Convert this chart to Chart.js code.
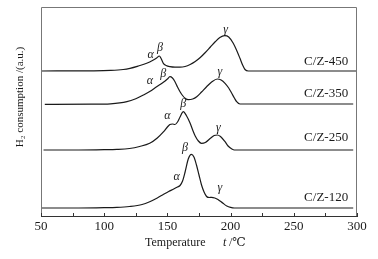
<!DOCTYPE html>
<html>
<head>
<meta charset="utf-8">
<script src="https://cdn.jsdelivr.net/npm/chart.js@4"></script>
<style>
  html, body { margin: 0; padding: 0; background: #fff; }
  #wrap { width: 378px; height: 259px; }
</style>
</head>
<body>
<div id="wrap"><canvas id="tprChart" width="378" height="259"></canvas></div>
<script>
// TPR curves (temperature in C, signal in arbitrary units with offset)
var temp120 = [50, 80, 100, 110, 120, 130, 136, 142, 147, 151, 155, 158, 160, 162, 164, 166.5, 169, 171, 173, 175, 177, 179, 181, 183, 185, 187.5, 190, 194, 197, 200, 203, 297];
var h120    = [8, 8, 8.3, 8.6, 9.5, 11.5, 14.3, 18, 21.7, 24.5, 27, 29, 30.5, 35, 44, 57, 61.7, 59, 51, 41, 31, 24, 19.5, 18.5, 18.7, 18, 16.5, 12.7, 10, 8.6, 8, 8];

var temp250 = [52, 80, 100, 110, 120, 128, 136, 142, 147, 150, 152, 154, 156, 158, 160, 162.6, 165, 168, 170, 172, 174.5, 177, 180, 184, 187, 189.5, 192, 195.6, 198, 201, 203, 297];
var h250    = [66, 66, 66.3, 66.6, 67.5, 69.5, 72.7, 78, 84.3, 89, 91.5, 92, 91.5, 94, 99, 104.3, 100.5, 92.7, 86, 80, 75, 72.7, 73.5, 77.7, 80.5, 81, 79.5, 74.3, 70, 67, 66, 66];

var temp350 = [53, 90, 105, 118, 125, 131, 136, 141.5, 146.8, 150, 152, 154, 156, 158, 160, 162, 164, 166.6, 170, 173.2, 177, 181, 185, 189.5, 192.5, 195.6, 198.5, 200.9, 203, 204.8, 207.4, 297];
var h350    = [111.7, 111.8, 112.2, 114.3, 117.3, 121, 124.5, 129.3, 133.7, 137, 139.3, 138, 134.3, 129, 124.3, 120.5, 117.7, 116.3, 117, 119.3, 124, 129.3, 134, 137, 136, 132.7, 128, 122.7, 118, 114.3, 112, 112];

var temp450 = [50, 90, 105, 115, 120.4, 127, 133.6, 138.9, 141.5, 143.6, 145.2, 146.8, 149, 152, 156, 160, 164, 168, 172, 176, 180, 184, 188, 191.5, 195.3, 198.5, 202.1, 205, 207.4, 209.5, 211.4, 214, 300];
var h450    = [145, 145.2, 145.6, 146.5, 147.7, 150, 152.7, 156, 158, 160, 157, 152.7, 150.5, 149.3, 148.8, 148.8, 149.5, 151.5, 154.5, 158.5, 163.5, 169, 174.5, 178.5, 180.3, 179, 172.7, 165, 157.7, 151, 146.5, 145, 145];

var sampleNames = ['C/Z-120', 'C/Z-250', 'C/Z-350', 'C/Z-450'];
var nameLevels  = [18, 78, 122, 154];

// peak labels: text, temperature, level
var peakText  = ['α', 'β', 'γ', 'α', 'β', 'γ', 'α', 'β', 'γ', 'α', 'β', 'γ'];
var peakTemp  = [157.3, 164, 191.6, 150, 162.6, 190.3, 136.2, 146.8, 191.6, 136.8, 144.1, 196];
var peakLevel = [38.7, 67.7, 27.7, 100, 111.7, 87.7, 135, 141.7, 143.7, 161, 167.7, 186];

var xTicks = [50, 100, 150, 200, 250, 300];

function pts(xs, ys) {
    return xs.map(function (x, i) { return { x: x, y: ys[i] }; });
}

var allTemps = [temp120, temp250, temp350, temp450];
var allH = [h120, h250, h350, h450];

var datasets = allTemps.map(function (t, i) {
    return {
        label: sampleNames[i],
        data: pts(t, allH[i]),
        borderColor: '#1a1a1a',
        borderWidth: 1.2,
        pointRadius: 0,
        fill: false,
        cubicInterpolationMode: 'monotone'
    };
});

var serif = '"Liberation Serif", "DejaVu Serif", serif';

// frame, inward ticks, axis titles and text labels
var decorPlugin = {
    id: 'decor',
    afterDraw: function (chart) {
        var c = chart.ctx;
        var a = chart.chartArea;
        var xs = chart.scales.x;
        var ys = chart.scales.y;
        c.save();
        c.strokeStyle = '#777';
        c.lineWidth = 1;
        c.beginPath();
        c.moveTo(a.left + 0.5, a.bottom);
        c.lineTo(a.left + 0.5, a.top + 0.5);
        c.lineTo(a.right - 0.5, a.top + 0.5);
        c.lineTo(a.right - 0.5, a.bottom);
        c.stroke();

        c.strokeStyle = '#333';
        for (var v = 50; v <= 300; v += 25) {
            var px = Math.round(xs.getPixelForValue(v)) + 0.5;
            c.beginPath();
            c.moveTo(px, a.bottom);
            c.lineTo(px, a.bottom - 3);
            c.stroke();
        }

        c.fillStyle = '#1a1a1a';
        c.font = '13px ' + serif;
        c.textAlign = 'right';
        c.textBaseline = 'middle';
        sampleNames.forEach(function (n, i) {
            c.fillText(n, xs.getPixelForValue(293), ys.getPixelForValue(nameLevels[i]));
        });

        c.font = 'italic 12px ' + serif;
        c.textAlign = 'center';
        peakText.forEach(function (s, i) {
            c.fillText(s, xs.getPixelForValue(peakTemp[i]), ys.getPixelForValue(peakLevel[i]));
        });

        c.font = '12px ' + serif;
        c.textAlign = 'left';
        c.fillText('Temperature', 145, 243);
        c.font = 'italic 12px ' + serif;
        c.fillText('t', 223, 243);
        c.font = '12px ' + serif;
        c.fillText(' /\u2103', 226, 243);

        c.translate(20, 97);
        c.rotate(-Math.PI / 2);
        c.textAlign = 'center';
        c.font = '11px ' + serif;
        c.fillText('H\u2082 consumption /(a.u.)', 0, 0);
        c.restore();
    }
};

var ctx = document.getElementById('tprChart').getContext('2d');

var tprChart = new Chart(ctx, {
    type: 'line',
    data: { datasets: datasets },
    options: {
        responsive: false,
        animation: false,
        layout: { padding: { left: 41, right: 21, top: 7, bottom: 0 } },
        plugins: {
            legend: { display: false },
            tooltip: { enabled: false }
        },
        scales: {
            x: {
                type: 'linear',
                min: 50,
                max: 300,
                afterFit: function (s) { s.height = 43; },
                afterBuildTicks: function (s) {
                    s.ticks = xTicks.map(function (v) { return { value: v }; });
                },
                grid: { display: false, drawTicks: false },
                border: { display: true, color: '#333', width: 1 },
                ticks: {
                    padding: 3,
                    color: '#1a1a1a',
                    font: { family: serif, size: 13 }
                }
            },
            y: {
                type: 'linear',
                min: 0,
                max: 209,
                display: false
            }
        }
    },
    plugins: [decorPlugin]
});
</script>
</body>
</html>
